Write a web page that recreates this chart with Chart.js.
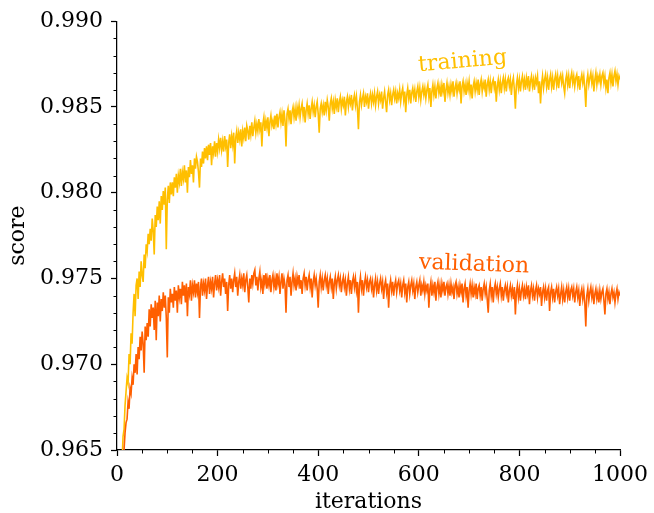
<!DOCTYPE html>
<html>
<head>
<meta charset="utf-8">
<script src="https://cdn.jsdelivr.net/npm/chart.js@4/dist/chart.umd.min.js"></script>
<style>
  html, body { margin: 0; padding: 0; background: #fff; }
  canvas { display: block; }
</style>
</head>
<body>
<canvas id="chart" width="654" height="513"></canvas>
<script>
// scores read every 2 iterations, from iteration 10 to 1000
const firstIteration = 10;
const iterationStep = 2;

const trainingScore = [
  0.9642, 0.9658, 0.9662, 0.9676, 0.9684, 0.9692, 0.9689, 0.9706, 0.9700, 0.9718, 0.9712, 0.9730, 0.9741, 0.9728, 0.9746, 0.9750, 0.9738, 0.9754, 0.9745, 0.9760, 0.9752, 0.9748, 0.9764, 0.9756, 0.9770,
  0.9766, 0.9776, 0.9770, 0.9779, 0.9772, 0.9785, 0.9778, 0.9764, 0.9787, 0.9780, 0.9792, 0.9784, 0.9795, 0.9782, 0.9798, 0.9790, 0.9801, 0.9793, 0.9803, 0.9767, 0.9796, 0.9804, 0.9794, 0.9806, 0.9799,
  0.9806, 0.9798, 0.9809, 0.9803, 0.9811, 0.9800, 0.9810, 0.9806, 0.9814, 0.9804, 0.9812, 0.9808, 0.9816, 0.9806, 0.9813, 0.9800, 0.9815, 0.9809, 0.9819, 0.9811, 0.9816, 0.9806, 0.9820, 0.9814, 0.9821,
  0.9818, 0.9812, 0.9803, 0.9820, 0.9815, 0.9824, 0.9817, 0.9826, 0.9820, 0.9827, 0.9819, 0.9828, 0.9822, 0.9829, 0.9816, 0.9827, 0.9823, 0.9830, 0.9821, 0.9829, 0.9824, 0.9831, 0.9826, 0.9832, 0.9825,
  0.9830, 0.9824, 0.9833, 0.9827, 0.9831, 0.9815, 0.9829, 0.9834, 0.9826, 0.9833, 0.9828, 0.9835, 0.9817, 0.9832, 0.9836, 0.9829, 0.9835, 0.9831, 0.9837, 0.9827, 0.9836, 0.9832, 0.9838, 0.9830, 0.9839,
  0.9836, 0.9831, 0.9839, 0.9834, 0.9841, 0.9833, 0.9838, 0.9842, 0.9835, 0.9840, 0.9836, 0.9843, 0.9837, 0.9841, 0.9827, 0.9840, 0.9844, 0.9836, 0.9842, 0.9838, 0.9844, 0.9833, 0.9841, 0.9845, 0.9839,
  0.9842, 0.9837, 0.9845, 0.9840, 0.9846, 0.9838, 0.9844, 0.9847, 0.9841, 0.9846, 0.9839, 0.9848, 0.9842, 0.9827, 0.9846, 0.9849, 0.9843, 0.9848, 0.9840, 0.9847, 0.9850, 0.9844, 0.9849, 0.9842, 0.9850,
  0.9846, 0.9851, 0.9844, 0.9849, 0.9852, 0.9845, 0.9850, 0.9841, 0.9848, 0.9852, 0.9846, 0.9851, 0.9843, 0.9849, 0.9853, 0.9847, 0.9851, 0.9844, 0.9850, 0.9853, 0.9846, 0.9835, 0.9849, 0.9852, 0.9847,
  0.9851, 0.9845, 0.9853, 0.9848, 0.9854, 0.9850, 0.9842, 0.9852, 0.9855, 0.9849, 0.9853, 0.9846, 0.9854, 0.9850, 0.9855, 0.9847, 0.9853, 0.9856, 0.9849, 0.9854, 0.9851, 0.9856, 0.9845, 0.9853, 0.9856,
  0.9850, 0.9855, 0.9852, 0.9857, 0.9848, 0.9854, 0.9857, 0.9851, 0.9856, 0.9849, 0.9837, 0.9853, 0.9857, 0.9851, 0.9855, 0.9858, 0.9850, 0.9856, 0.9853, 0.9858, 0.9849, 0.9855, 0.9858, 0.9852, 0.9857,
  0.9853, 0.9858, 0.9851, 0.9856, 0.9859, 0.9852, 0.9857, 0.9854, 0.9859, 0.9849, 0.9855, 0.9859, 0.9853, 0.9847, 0.9857, 0.9860, 0.9854, 0.9858, 0.9851, 0.9857, 0.9860, 0.9855, 0.9859, 0.9852, 0.9858,
  0.9855, 0.9860, 0.9853, 0.9858, 0.9861, 0.9854, 0.9859, 0.9847, 0.9857, 0.9861, 0.9855, 0.9860, 0.9852, 0.9858, 0.9861, 0.9856, 0.9860, 0.9853, 0.9859, 0.9862, 0.9856, 0.9861, 0.9854, 0.9859, 0.9862,
  0.9857, 0.9861, 0.9855, 0.9860, 0.9863, 0.9856, 0.9861, 0.9850, 0.9859, 0.9863, 0.9857, 0.9862, 0.9855, 0.9861, 0.9864, 0.9858, 0.9862, 0.9856, 0.9863, 0.9859, 0.9864, 0.9853, 0.9860, 0.9864, 0.9858,
  0.9862, 0.9857, 0.9863, 0.9859, 0.9865, 0.9856, 0.9861, 0.9864, 0.9858, 0.9863, 0.9860, 0.9865, 0.9852, 0.9862, 0.9865, 0.9859, 0.9863, 0.9857, 0.9864, 0.9860, 0.9865, 0.9858, 0.9863, 0.9855, 0.9862,
  0.9865, 0.9859, 0.9864, 0.9860, 0.9866, 0.9857, 0.9863, 0.9866, 0.9859, 0.9864, 0.9861, 0.9866, 0.9856, 0.9863, 0.9866, 0.9860, 0.9865, 0.9858, 0.9864, 0.9866, 0.9861, 0.9865, 0.9853, 0.9862, 0.9866,
  0.9860, 0.9865, 0.9858, 0.9864, 0.9867, 0.9861, 0.9866, 0.9859, 0.9865, 0.9867, 0.9862, 0.9866, 0.9857, 0.9864, 0.9867, 0.9860, 0.9849, 0.9863, 0.9867, 0.9861, 0.9866, 0.9859, 0.9865, 0.9868, 0.9862,
  0.9866, 0.9860, 0.9867, 0.9863, 0.9868, 0.9859, 0.9865, 0.9868, 0.9862, 0.9866, 0.9860, 0.9867, 0.9864, 0.9868, 0.9858, 0.9865, 0.9852, 0.9863, 0.9868, 0.9861, 0.9866, 0.9869, 0.9862, 0.9867, 0.9860,
  0.9866, 0.9869, 0.9862, 0.9867, 0.9860, 0.9866, 0.9869, 0.9863, 0.9868, 0.9861, 0.9867, 0.9869, 0.9864, 0.9868, 0.9862, 0.9858, 0.9866, 0.9869, 0.9863, 0.9868, 0.9861, 0.9867, 0.9870, 0.9864, 0.9868,
  0.9862, 0.9867, 0.9869, 0.9863, 0.9868, 0.9860, 0.9866, 0.9869, 0.9864, 0.9868, 0.9861, 0.9850, 0.9865, 0.9869, 0.9863, 0.9867, 0.9870, 0.9864, 0.9868, 0.9859, 0.9866, 0.9870, 0.9863, 0.9868, 0.9865,
  0.9869, 0.9863, 0.9868, 0.9870, 0.9864, 0.9868, 0.9861, 0.9866, 0.9858, 0.9867, 0.9870, 0.9864, 0.9869, 0.9862, 0.9868, 0.9871, 0.9865, 0.9869, 0.9863, 0.9868, 0.9866
];

const validationScore = [
  0.9632, 0.9644, 0.9650, 0.9660, 0.9666, 0.9668, 0.9678, 0.9674, 0.9686, 0.9683, 0.9692, 0.9688, 0.9700, 0.9695, 0.9706, 0.9694, 0.9710, 0.9703, 0.9716, 0.9708, 0.9719, 0.9712, 0.9695, 0.9722, 0.9714,
  0.9724, 0.9716, 0.9732, 0.9722, 0.9735, 0.9727, 0.9733, 0.9720, 0.9737, 0.9714, 0.9736, 0.9728, 0.9740, 0.9725, 0.9738, 0.9731, 0.9742, 0.9733, 0.9740, 0.9727, 0.9704, 0.9739, 0.9730, 0.9744, 0.9736,
  0.9741, 0.9733, 0.9745, 0.9737, 0.9743, 0.9730, 0.9746, 0.9739, 0.9744, 0.9735, 0.9748, 0.9740, 0.9746, 0.9736, 0.9747, 0.9728, 0.9745, 0.9741, 0.9749, 0.9737, 0.9746, 0.9742, 0.9749, 0.9739, 0.9747,
  0.9742, 0.9748, 0.9727, 0.9745, 0.9750, 0.9740, 0.9747, 0.9743, 0.9750, 0.9738, 0.9746, 0.9751, 0.9741, 0.9748, 0.9744, 0.9751, 0.9739, 0.9747, 0.9752, 0.9743, 0.9749, 0.9745, 0.9752, 0.9740, 0.9748,
  0.9753, 0.9745, 0.9750, 0.9741, 0.9748, 0.9731, 0.9746, 0.9752, 0.9744, 0.9750, 0.9742, 0.9749, 0.9753, 0.9745, 0.9751, 0.9740, 0.9748, 0.9752, 0.9744, 0.9750, 0.9746, 0.9753, 0.9742, 0.9749, 0.9752,
  0.9745, 0.9736, 0.9750, 0.9744, 0.9752, 0.9747, 0.9753, 0.9755, 0.9746, 0.9751, 0.9743, 0.9750, 0.9754, 0.9745, 0.9749, 0.9741, 0.9752, 0.9747, 0.9753, 0.9744, 0.9750, 0.9746, 0.9752, 0.9742, 0.9749,
  0.9752, 0.9745, 0.9750, 0.9743, 0.9753, 0.9747, 0.9751, 0.9741, 0.9748, 0.9753, 0.9744, 0.9750, 0.9746, 0.9730, 0.9749, 0.9752, 0.9745, 0.9751, 0.9740, 0.9748, 0.9753, 0.9746, 0.9750, 0.9743, 0.9751,
  0.9747, 0.9752, 0.9744, 0.9749, 0.9741, 0.9750, 0.9753, 0.9746, 0.9751, 0.9743, 0.9749, 0.9752, 0.9745, 0.9750, 0.9739, 0.9748, 0.9752, 0.9746, 0.9750, 0.9744, 0.9733, 0.9748, 0.9752, 0.9745, 0.9750,
  0.9743, 0.9749, 0.9752, 0.9746, 0.9750, 0.9741, 0.9748, 0.9751, 0.9745, 0.9750, 0.9738, 0.9747, 0.9751, 0.9744, 0.9749, 0.9752, 0.9746, 0.9750, 0.9742, 0.9748, 0.9751, 0.9745, 0.9749, 0.9740, 0.9747,
  0.9751, 0.9744, 0.9749, 0.9741, 0.9748, 0.9751, 0.9745, 0.9750, 0.9743, 0.9748, 0.9730, 0.9746, 0.9751, 0.9744, 0.9749, 0.9740, 0.9747, 0.9751, 0.9745, 0.9749, 0.9742, 0.9748, 0.9750, 0.9744, 0.9748,
  0.9739, 0.9746, 0.9750, 0.9743, 0.9748, 0.9741, 0.9747, 0.9750, 0.9744, 0.9748, 0.9738, 0.9746, 0.9749, 0.9742, 0.9747, 0.9733, 0.9745, 0.9749, 0.9743, 0.9748, 0.9740, 0.9746, 0.9749, 0.9742, 0.9747,
  0.9749, 0.9743, 0.9747, 0.9739, 0.9746, 0.9749, 0.9742, 0.9747, 0.9736, 0.9745, 0.9748, 0.9741, 0.9746, 0.9749, 0.9743, 0.9747, 0.9738, 0.9745, 0.9748, 0.9742, 0.9746, 0.9749, 0.9740, 0.9746, 0.9743,
  0.9748, 0.9741, 0.9746, 0.9743, 0.9747, 0.9733, 0.9744, 0.9748, 0.9740, 0.9746, 0.9742, 0.9748, 0.9737, 0.9745, 0.9748, 0.9741, 0.9746, 0.9739, 0.9747, 0.9743, 0.9748, 0.9740, 0.9745, 0.9747, 0.9741,
  0.9746, 0.9740, 0.9747, 0.9742, 0.9745, 0.9738, 0.9746, 0.9748, 0.9741, 0.9745, 0.9739, 0.9746, 0.9742, 0.9747, 0.9736, 0.9744, 0.9747, 0.9740, 0.9745, 0.9733, 0.9743, 0.9747, 0.9741, 0.9746, 0.9739,
  0.9745, 0.9741, 0.9747, 0.9738, 0.9744, 0.9746, 0.9740, 0.9745, 0.9737, 0.9744, 0.9747, 0.9741, 0.9745, 0.9738, 0.9730, 0.9743, 0.9747, 0.9740, 0.9745, 0.9736, 0.9744, 0.9747, 0.9741, 0.9745, 0.9739,
  0.9744, 0.9747, 0.9740, 0.9745, 0.9737, 0.9743, 0.9746, 0.9741, 0.9745, 0.9736, 0.9743, 0.9746, 0.9740, 0.9744, 0.9738, 0.9745, 0.9729, 0.9742, 0.9746, 0.9739, 0.9744, 0.9737, 0.9743, 0.9746, 0.9740,
  0.9744, 0.9738, 0.9745, 0.9741, 0.9746, 0.9735, 0.9743, 0.9746, 0.9740, 0.9744, 0.9737, 0.9743, 0.9746, 0.9739, 0.9744, 0.9741, 0.9745, 0.9734, 0.9742, 0.9745, 0.9739, 0.9744, 0.9737, 0.9743, 0.9745,
  0.9731, 0.9742, 0.9745, 0.9739, 0.9744, 0.9736, 0.9742, 0.9745, 0.9740, 0.9744, 0.9735, 0.9741, 0.9745, 0.9738, 0.9743, 0.9736, 0.9742, 0.9745, 0.9739, 0.9744, 0.9737, 0.9743, 0.9745, 0.9740, 0.9744,
  0.9736, 0.9742, 0.9745, 0.9739, 0.9743, 0.9734, 0.9741, 0.9744, 0.9738, 0.9743, 0.9736, 0.9722, 0.9740, 0.9744, 0.9737, 0.9742, 0.9745, 0.9739, 0.9743, 0.9735, 0.9741, 0.9744, 0.9738, 0.9742, 0.9736,
  0.9743, 0.9738, 0.9742, 0.9744, 0.9737, 0.9729, 0.9741, 0.9744, 0.9738, 0.9742, 0.9735, 0.9741, 0.9744, 0.9739, 0.9742, 0.9736, 0.9741, 0.9744, 0.9738, 0.9742, 0.9740
];

// text labels placed next to the curves
const curveLabels = [
  { text: 'training', x: 600, y: 0.98708, angle: -5, color: '#ffbf00' },
  { text: 'validation', x: 600, y: 0.97558, angle: 2, color: '#ff5f00' }
];

const xMajorStep = 200, xMinorStep = 50;
const yMajorStep = 0.005, yMinorStep = 0.001;

const FONT = 'DejaVu Serif';
Chart.defaults.font.family = FONT;
Chart.defaults.font.size = 22;
Chart.defaults.color = '#000';

function toPoints(values){
    return values.map((v, i) => ({ x: firstIteration + i * iterationStep, y: v }));
}

// small ticks between the labelled ones, plus the curve labels
const extras = {
    id: 'extras',
    afterDraw(chart){
        const c = chart.ctx;
        const xs = chart.scales.x, ys = chart.scales.y;
        c.save();
        c.strokeStyle = '#000';
        c.lineWidth = 1;
        c.beginPath();
        for(let v = xs.min; v <= xs.max + 1e-9; v += xMinorStep){
            if(Math.abs(v / xMajorStep - Math.round(v / xMajorStep)) < 1e-6) continue;
            const px = Math.round(xs.getPixelForValue(v)) + 0.5;
            c.moveTo(px, ys.bottom);
            c.lineTo(px, ys.bottom + 3.5);
        }
        for(let k = 0; ys.min + k * yMinorStep <= ys.max + 1e-9; k++){
            if(k % 5 === 0) continue;
            const py = Math.round(ys.getPixelForValue(ys.min + k * yMinorStep)) + 0.5;
            c.moveTo(xs.left, py);
            c.lineTo(xs.left - 3.5, py);
        }
        c.stroke();

        c.font = '22px "' + FONT + '"';
        c.textAlign = 'left';
        c.textBaseline = 'alphabetic';
        curveLabels.forEach(l => {
            c.save();
            c.translate(xs.getPixelForValue(l.x), ys.getPixelForValue(l.y));
            c.rotate(l.angle * Math.PI / 180);
            c.fillStyle = l.color;
            c.fillText(l.text, 0, 0);
            c.restore();
        });
        c.restore();
    }
};

new Chart(document.getElementById('chart').getContext('2d'), {
    type: 'line',
    data: {
        datasets: [
            {
                label: 'training',
                data: toPoints(trainingScore),
                borderColor: '#ffbf00',
                borderWidth: 1.6,
                pointRadius: 0,
                tension: 0,
                order: 1
            },
            {
                label: 'validation',
                data: toPoints(validationScore),
                borderColor: '#ff5f00',
                borderWidth: 1.6,
                pointRadius: 0,
                tension: 0,
                order: 0
            }
        ]
    },
    options: {
        responsive: false,
        animation: false,
        devicePixelRatio: 1,
        layout: { padding: { top: 20, right: 32, left: 0, bottom: 0 } },
        plugins: { legend: { display: false }, tooltip: { enabled: false } },
        scales: {
            x: {
                type: 'linear',
                min: 0,
                max: 1000,
                afterFit: s => { s.height = 63; },
                ticks: { stepSize: xMajorStep, padding: 6, maxRotation: 0, callback: v => String(v) },
                grid: { drawOnChartArea: false, tickLength: 6, tickColor: '#000', tickWidth: 1.25 },
                border: { color: '#000', width: 1.25 },
                title: { display: true, text: 'iterations', font: { lineHeight: 1 }, padding: { top: 0, bottom: 0 } }
            },
            y: {
                type: 'linear',
                min: 0.965,
                max: 0.990,
                afterFit: s => { s.width = 117; },
                ticks: { stepSize: yMajorStep, padding: 8, callback: v => v.toFixed(3) },
                grid: { drawOnChartArea: false, tickLength: 6, tickColor: '#000', tickWidth: 1.25 },
                border: { color: '#000', width: 1.25 },
                title: { display: true, text: 'score', padding: { top: 5, bottom: 0 } }
            }
        }
    },
    plugins: [extras]
});
</script>
</body>
</html>
